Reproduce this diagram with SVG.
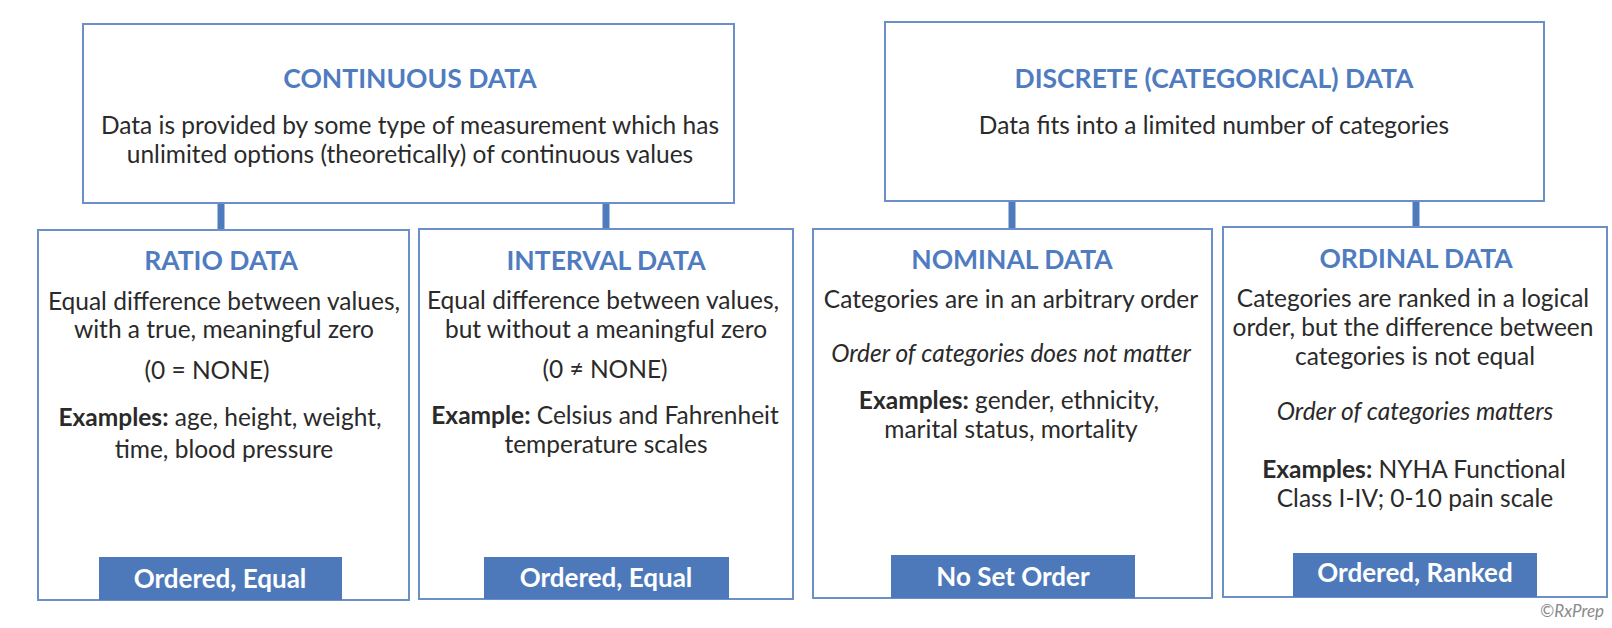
<svg xmlns="http://www.w3.org/2000/svg" width="1612" height="628" viewBox="0 0 1612 628">
<style>
.box{fill:#ffffff;stroke:#6b90c9;stroke-width:2}
.conn{stroke:#4f7bbd;stroke-width:7}
.title{font-family:Lato,"Liberation Sans",sans-serif;font-weight:bold;font-size:26.5px;fill:#4f7cc0;text-anchor:middle}
.body{font-family:Lato,"Liberation Sans",sans-serif;font-size:24.5px;fill:#2a2a2a;text-anchor:middle}
.it{font-style:italic}
.b{font-weight:bold}
.tag{fill:#4d79bb}
.tagt{font-family:Lato,"Liberation Sans",sans-serif;font-weight:bold;font-size:26px;fill:#ffffff;text-anchor:middle}
.copy{font-family:Lato,"Liberation Sans",sans-serif;font-style:italic;font-size:17px;fill:#8a8a8a;text-anchor:end}
</style>
<rect width="1612" height="628" fill="#ffffff"/>
<g id="connectors">
<line class="conn" x1="221" y1="203" x2="221" y2="229"/>
<line class="conn" x1="606" y1="203" x2="606" y2="229"/>
<line class="conn" x1="1012" y1="201" x2="1012" y2="229"/>
<line class="conn" x1="1416" y1="201" x2="1416" y2="228"/>
</g>
<g id="continuous">
<rect class="box" x="83" y="24" width="651" height="179"/>
<text class="title" x="410" y="88">CONTINUOUS DATA</text>
<text class="body" x="410" y="134">Data is provided by some type of measurement which has</text>
<text class="body" x="410" y="163">unlimited options (theoretically) of continuous values</text>
</g>
<g id="discrete">
<rect class="box" x="885" y="22" width="659" height="179"/>
<text class="title" x="1214" y="88">DISCRETE (CATEGORICAL) DATA</text>
<text class="body" x="1214" y="134">Data fits into a limited number of categories</text>
</g>
<g id="ratio">
<rect class="box" x="38" y="230" width="371" height="370"/>
<text class="title" x="221" y="270">RATIO DATA</text>
<text class="body" x="224" y="310">Equal difference between values,</text>
<text class="body" x="224" y="338">with a true, meaningful zero</text>
<text class="body" x="207" y="379">(0 = NONE)</text>
<text class="body" x="220" y="426"><tspan class="b">Examples:</tspan> age, height, weight,</text>
<text class="body" x="224" y="458">time, blood pressure</text>
<rect class="tag" x="99" y="557" width="243" height="43"/>
<text class="tagt" x="220" y="588">Ordered, Equal</text>
</g>
<g id="interval">
<rect class="box" x="419" y="229" width="374" height="370"/>
<text class="title" x="606" y="270">INTERVAL DATA</text>
<text class="body" x="603" y="309">Equal difference between values,</text>
<text class="body" x="606" y="338">but without a meaningful zero</text>
<text class="body" x="605" y="378">(0 ≠ NONE)</text>
<text class="body" x="605" y="424"><tspan class="b">Example:</tspan> Celsius and Fahrenheit</text>
<text class="body" x="606" y="453">temperature scales</text>
<rect class="tag" x="484" y="557" width="245" height="42"/>
<text class="tagt" x="606" y="587">Ordered, Equal</text>
</g>
<g id="nominal">
<rect class="box" x="813" y="229" width="399" height="369"/>
<text class="title" x="1012" y="269">NOMINAL DATA</text>
<text class="body" x="1011" y="308">Categories are in an arbitrary order</text>
<text class="body it" x="1011" y="362">Order of categories does not matter</text>
<text class="body" x="1009" y="409"><tspan class="b">Examples:</tspan> gender, ethnicity,</text>
<text class="body" x="1011" y="438">marital status, mortality</text>
<rect class="tag" x="891" y="555" width="244" height="43"/>
<text class="tagt" x="1013" y="586">No Set Order</text>
</g>
<g id="ordinal">
<rect class="box" x="1223" y="227" width="384" height="370"/>
<text class="title" x="1416" y="268">ORDINAL DATA</text>
<text class="body" x="1413" y="307">Categories are ranked in a logical</text>
<text class="body" x="1413" y="336">order, but the difference between</text>
<text class="body" x="1415" y="365">categories is not equal</text>
<text class="body it" x="1415" y="420">Order of categories matters</text>
<text class="body" x="1414" y="478"><tspan class="b">Examples:</tspan> NYHA Functional</text>
<text class="body" x="1415" y="507">Class I-IV; 0-10 pain scale</text>
<rect class="tag" x="1293" y="553" width="244" height="44"/>
<text class="tagt" x="1415" y="582">Ordered, Ranked</text>
</g>
<text class="copy" x="1604" y="617">©RxPrep</text>
</svg>
